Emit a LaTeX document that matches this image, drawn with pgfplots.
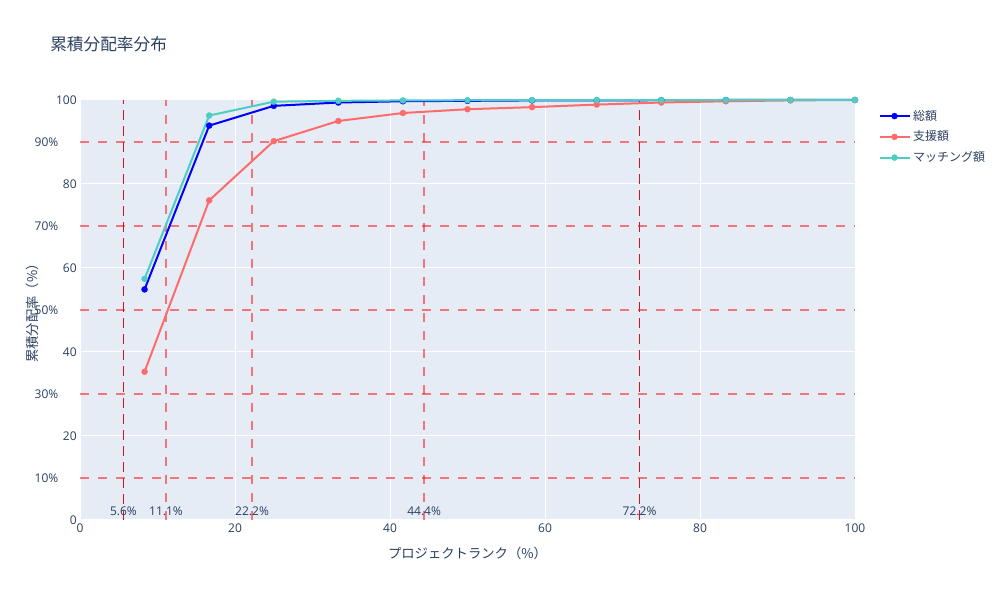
\documentclass[border=0pt]{standalone}
\usepackage{fontspec}
\setmainfont{Open Sans}
\newfontfamily\cjk{Noto Sans CJK JP}
\usepackage{pgfplots}
\pgfplotsset{compat=1.18}
\definecolor{bgc}{HTML}{E5ECF6}
\definecolor{fontc}{HTML}{2A3F5F}
\definecolor{cblue}{HTML}{0000FF}
\definecolor{cred}{HTML}{FF6B6B}
\definecolor{cteal}{HTML}{4ECDC4}
\definecolor{hl}{HTML}{FF0000}
\definecolor{dl}{HTML}{E0101C}
\begin{document}
\begin{tikzpicture}[font=\fontsize{9}{10}\selectfont]
\useasboundingbox (0,0) rectangle (750pt,450pt);
\node[anchor=west, inner sep=0pt, text=fontc, font=\cjk\fontsize{12.5}{14}\selectfont] at (37.5pt,417pt) {累積分配率分布};
\begin{axis}[
  at={(60pt,60pt)}, anchor=south west,
  scale only axis, width=581.25pt, height=315pt,
  xmin=0, xmax=100, ymin=0, ymax=100,
  axis background/.style={fill=bgc},
  axis line style={draw=none},
  tick style={draw=none},
  grid=major,
  major grid style={white, line width=0.75pt},
  xtick={0,20,...,100}, ytick={0,20,...,100},
  /pgf/number format/assume math mode=true,
  ticklabel style={text=fontc, font=\fontsize{9}{10}\selectfont},
  yticklabel style={xshift=1pt},
  xticklabel style={yshift=1pt},
  xlabel={\cjk プロジェクトランク（\%）},
  ylabel={\cjk 累積分配率（\%）},
  label style={text=fontc, font=\fontsize{10}{12}\selectfont},
  xlabel style={at={(axis description cs:0.5,-0.0786)}, anchor=center},
  ylabel style={at={(axis description cs:-0.0619,0.5)}, anchor=center, rotate=0},
  legend style={at={(axis description cs:1.03,0.983)}, anchor=north west,
    draw=none, fill=none, inner sep=0pt, text=fontc,
    font=\cjk\fontsize{9}{10}\selectfont, row sep=2.5pt,
    cells={anchor=west}},
  legend image code/.code={\draw[mark repeat=2,mark phase=2,#1] plot coordinates {(0pt,0pt)(11.25pt,0pt)(22.5pt,0pt)};},
  every axis plot/.append style={line width=1.5pt, mark=*, mark size=2.3pt, mark options={line width=0.2pt}},
  clip=false,
]
% threshold lines
\pgfplotsinvokeforeach{10,30,50,70,90}{
  \draw[hl, opacity=0.5, line width=1.5pt, dash pattern=on 6.75pt off 6.75pt] (axis cs:0,#1) -- (axis cs:100,#1);
  \node[anchor=east, text=fontc] at (axis cs:-2.2,#1) {#1\%};
}
\pgfplotsinvokeforeach{11.1,22.2,44.4}{
  \draw[hl, opacity=0.5, line width=1.5pt, dash pattern=on 6.75pt off 6.75pt] (axis cs:#1,0) -- (axis cs:#1,100);
}
\pgfplotsinvokeforeach{5.6,72.2}{
  \draw[dl, line width=0.75pt, dash pattern=on 7.5pt off 4.5pt] (axis cs:#1,0) -- (axis cs:#1,100);
}
\pgfplotsinvokeforeach{5.6,11.1,22.2,44.4,72.2}{
  \node[text=fontc] at (axis cs:#1,2.1) {#1\%};
}
\addplot[cblue] coordinates {
(8.33,54.9) (16.67,93.9) (25,98.6) (33.33,99.4) (41.67,99.7) (50,99.8)
(58.33,99.9) (66.67,99.9) (75,99.95) (83.33,100) (91.67,100) (100,100)};
\addlegendentry{総額}
\addplot[cred] coordinates {
(8.33,35.3) (16.67,76.1) (25,90.2) (33.33,95.0) (41.67,96.9) (50,97.8)
(58.33,98.3) (66.67,98.9) (75,99.4) (83.33,99.7) (91.67,99.9) (100,100)};
\addlegendentry{支援額}
\addplot[cteal] coordinates {
(8.33,57.4) (16.67,96.3) (25,99.6) (33.33,99.8) (41.67,99.9) (50,99.95)
(58.33,99.97) (66.67,99.98) (75,99.99) (83.33,100) (91.67,100) (100,100)};
\addlegendentry{マッチング額}
\end{axis}
\end{tikzpicture}
\end{document}
